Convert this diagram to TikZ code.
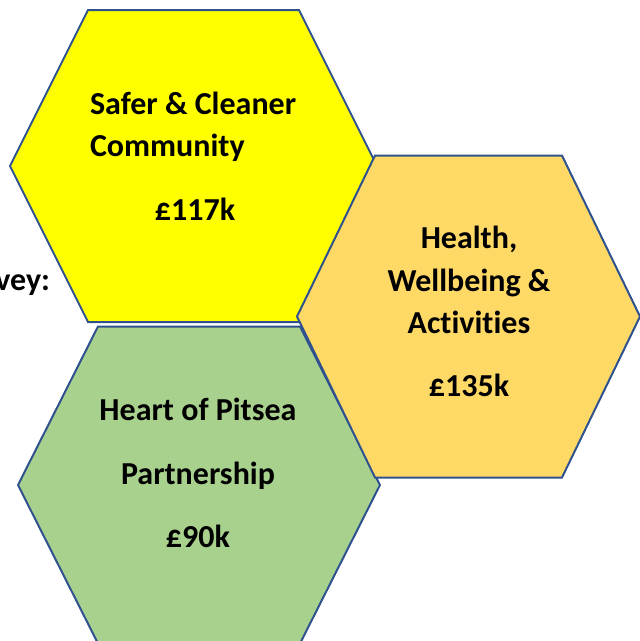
\documentclass[tikz,border=0pt]{standalone}
\usepackage{fontspec}
\setmainfont{Carlito}[Ligatures={NoCommon}]
\usetikzlibrary{positioning}
\definecolor{hexline}{HTML}{2F528F}
\definecolor{saferfill}{HTML}{FFFF00}
\definecolor{healthfill}{HTML}{FFD966}
\definecolor{heartfill}{HTML}{A9D18E}
\tikzset{
  every picture/.style={line width=2pt},
  hexcell/.style={draw=hexline, line join=miter},
  every node/.style={font=\fontsize{32}{38}\selectfont\bfseries, inner sep=0pt},
  lbl/.style={anchor=base},
  lblleft/.style={anchor=base west}
}
% #1 name, #2 cx, #3 cy, #4 half width, #5 half top edge, #6 half height, #7 fill
\newcommand{\HexCell}[7]{%
  \coordinate (#1) at (#2,#3);
  \filldraw[hexcell, fill=#7] (#2-#4,#3) -- (#2-#5,#3-#6) -- (#2+#5,#3-#6)
    -- (#2+#4,#3) -- (#2+#5,#3+#6) -- (#2-#5,#3+#6) -- cycle;
}

\begin{document}
\begin{tikzpicture}[x=1pt, y=-1pt]
    \useasboundingbox (0,0) rectangle (640,641);

    \HexCell{safer}{193.5}{166}{183.5}{105.5}{156}{saferfill}
    \HexCell{heart}{199}{485}{181}{101}{158.5}{heartfill}
    \HexCell{health}{468.5}{316.5}{171.5}{93.5}{161}{healthfill}

    \node [lbl, anchor=base east] (survey) at (51,290) {vey:};

    \node [lblleft] (s1) at (89,114) {Safer \& Cleaner};
    \node [lblleft] (s2) at (89,156) {Community};
    \node [lbl] (s3) at (195,220) {£117k};

    \node [lbl] (h1) at (469,248) {Health,};
    \node [lbl] (h2) at (469,291) {Wellbeing \&};
    \node [lbl] (h3) at (469,333) {Activities};
    \node [lbl] (h4) at (469,396) {£135k};

    \node [lbl] (p1) at (198,420) {Heart of Pitsea};
    \node [lbl] (p2) at (198,484) {Partnership};
    \node [lbl] (p3) at (198,547) {£90k};
\end{tikzpicture}
\end{document}
